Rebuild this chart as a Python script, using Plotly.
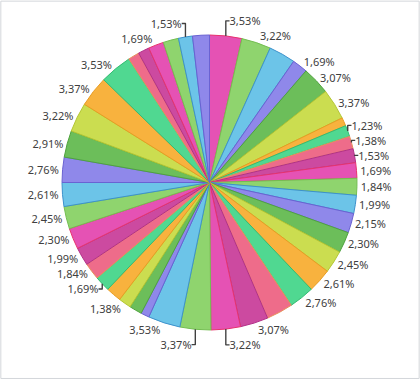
import plotly.graph_objects as go

# Slice values (clockwise from 12 o'clock), total = 652
values = [23, 21, 19, 11, 20, 22, 6, 8, 9, 10, 11, 12, 13, 14, 15, 16, 17, 18, 19, 20,
          21, 22, 23, 6, 9, 9, 11, 11, 12, 13, 15, 16, 17, 18, 19, 21, 22, 23, 8, 8,
          11, 11, 10, 12]
# Whether the reference shows a label for each slice
show_label = [1, 1, 0, 1, 1, 1, 0, 1, 1, 1, 1, 1, 1, 1, 1, 1, 1, 1, 0, 1,
              1, 1, 1, 0, 0, 1, 0, 1, 1, 1, 1, 1, 1, 1, 1, 1, 1, 1, 0, 0,
              1, 0, 1, 0]
categories = [f"Item {i + 1}" for i in range(len(values))]

palette = ["#E552B4", "#8FD46E", "#6CC4E8", "#8F88EA", "#6CBE5A",
           "#CBDD50", "#F8B23E", "#50D891", "#EE6C8A", "#CC4AA0"]
edge = ["#E8336E", "#74BE52", "#3D92CC", "#6A62D2", "#4FA33E",
        "#B4C633", "#E89C22", "#33BC72", "#E8905A", "#B23088"]

colors = [palette[i % 10] for i in range(len(values))]
lines = [edge[i % 10] for i in range(len(values))]
templates = ["%{percent:.2%}" if s else "" for s in show_label]

fig = go.Figure(go.Pie(
    labels=categories,
    values=values,
    sort=False,
    direction="clockwise",
    rotation=0,
    marker=dict(colors=colors, line=dict(color=lines, width=1)),
    texttemplate=templates,
    textposition="outside",
    textfont=dict(family="Noto Sans", size=11, color="#404040"),
    domain=dict(x=[62 / 420, 357 / 420], y=[50 / 380, 345 / 380]),
    showlegend=False,
))

fig.update_layout(
    width=420, height=380,
    margin=dict(l=0, r=0, t=0, b=0),
    paper_bgcolor="white",
    separators=", ",
    shapes=[dict(type="rect", xref="paper", yref="paper", x0=0.002, y0=0.004,
                 x1=0.998, y1=0.997, line=dict(color="#D3D6DA", width=1))],
)

fig.write_html("out.html",
               config={"displayModeBar": False},
               post_script="document.body.style.margin='0';document.body.style.overflow='hidden';")
